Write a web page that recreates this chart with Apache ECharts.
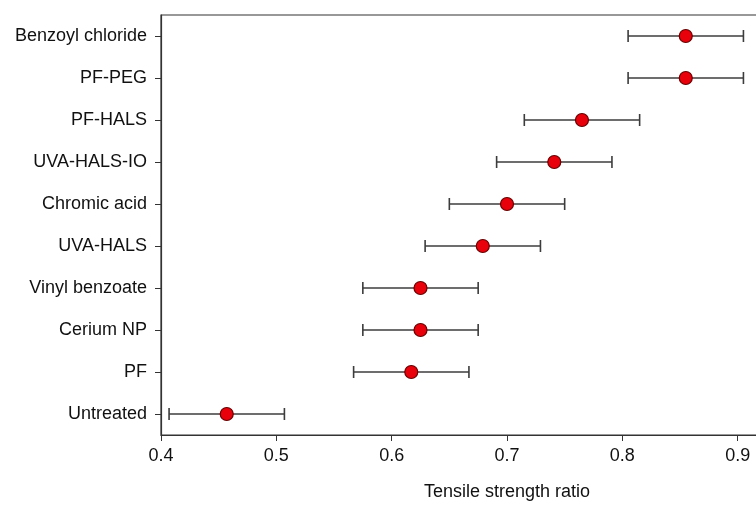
<!DOCTYPE html>
<html>
<head>
<meta charset="utf-8">
<script src="https://cdn.jsdelivr.net/npm/echarts@6/dist/echarts.min.js"></script>
<style>
  html, body { margin: 0; padding: 0; background: #fff; overflow: hidden; }
  #chart { width: 900px; height: 507px; }
</style>
</head>
<body>
<div id="chart"></div>
<script>
// Treatments, listed bottom to top as they appear on the category axis
const categories = [
  'Untreated', 'PF', 'Cerium NP', 'Vinyl benzoate', 'UVA-HALS',
  'Chromic acid', 'UVA-HALS-IO', 'PF-HALS', 'PF-PEG', 'Benzoyl chloride'
];
// Mean tensile strength ratio per treatment
const means = [0.457, 0.617, 0.625, 0.625, 0.679, 0.700, 0.741, 0.765, 0.855, 0.855];
// Half-width of each error bar
const errors = [0.050, 0.050, 0.050, 0.050, 0.050, 0.050, 0.050, 0.050, 0.050, 0.050];
const xTicks = [0.4, 0.5, 0.6, 0.7, 0.8, 0.9, 1.0];

const chart = echarts.init(document.getElementById('chart'));
const font = 'Liberation Sans, Arial, sans-serif';

const errorData = categories.map((c, i) => [means[i] - errors[i], means[i] + errors[i], i]);
const pointData = categories.map((c, i) => [means[i], i]);

chart.setOption({
  animation: false,
  grid: {
    left: 161, right: 47, top: 15, bottom: 72,
    outerBoundsMode: 'none',
    show: true, borderColor: '#333', borderWidth: 1.2, backgroundColor: 'transparent'
  },
  xAxis: {
    type: 'value',
    min: xTicks[0], max: xTicks[xTicks.length - 1], interval: 0.1,
    name: 'Tensile strength ratio',
    nameLocation: 'middle', nameGap: 48,
    nameTextStyle: { fontFamily: font, fontSize: 18, color: '#111' },
    axisLine: { show: true, lineStyle: { color: '#333', width: 1.2 } },
    axisTick: { show: true, inside: false, length: 6, lineStyle: { color: '#333' } },
    axisLabel: {
      fontFamily: font, fontSize: 18, color: '#111', margin: 12,
      formatter: v => v.toFixed(1)
    },
    splitLine: { show: false }
  },
  yAxis: {
    type: 'category',
    data: categories,
    boundaryGap: true,
    axisLine: { show: true, lineStyle: { color: '#333', width: 1.2 } },
    axisTick: { show: true, alignWithLabel: true, length: 6, lineStyle: { color: '#333' } },
    axisLabel: { fontFamily: font, fontSize: 18, color: '#111', margin: 14 },
    splitLine: { show: false }
  },
  series: [
    {
      type: 'custom',
      name: 'error',
      data: errorData,
      encode: { x: [0, 1], y: 2 },
      renderItem: function (params, api) {
        const y = api.value(2);
        const lo = api.coord([api.value(0), y]);
        const hi = api.coord([api.value(1), y]);
        const cap = 6;
        const style = { stroke: '#3c3c3c', lineWidth: 1.6 };
        return {
          type: 'group',
          children: [
            { type: 'line', shape: { x1: lo[0], y1: lo[1], x2: hi[0], y2: hi[1] }, style },
            { type: 'line', shape: { x1: lo[0], y1: lo[1] - cap, x2: lo[0], y2: lo[1] + cap }, style },
            { type: 'line', shape: { x1: hi[0], y1: hi[1] - cap, x2: hi[0], y2: hi[1] + cap }, style }
          ]
        };
      },
      z: 2
    },
    {
      type: 'scatter',
      name: 'mean',
      data: pointData,
      symbol: 'circle',
      symbolSize: 13,
      itemStyle: { color: '#e8000b', borderColor: '#6b0000', borderWidth: 1.2, opacity: 1 },
      z: 3
    }
  ]
});
</script>
</body>
</html>
